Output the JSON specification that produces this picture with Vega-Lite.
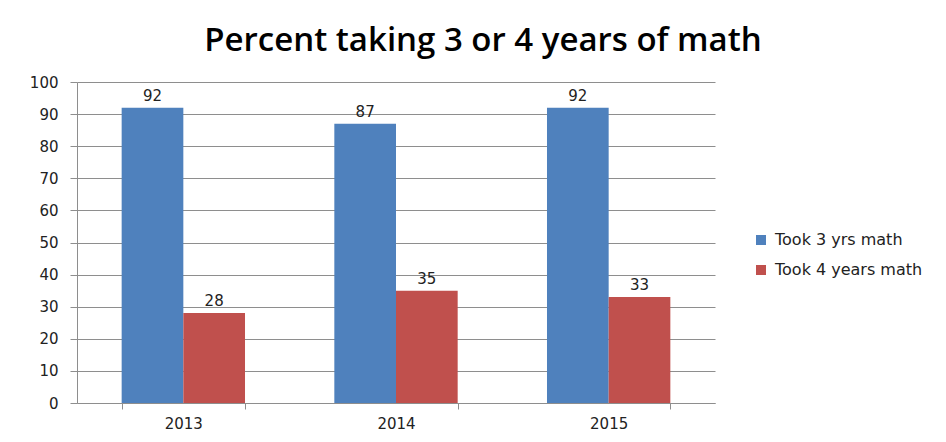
{
  "$schema": "https://vega.github.io/schema/vega-lite/v6.json",
  "width": 638,
  "height": 321,
  "autosize": {"type": "none"},
  "padding": {"left": 77, "top": 82, "right": 231, "bottom": 39},
  "background": "white",
  "title": {
    "text": "Percent taking 3 or 4 years of math",
    "font": "Open Sans",
    "fontSize": 33,
    "fontWeight": 600,
    "color": "#000000",
    "anchor": "middle",
    "frame": "group",
    "dx": 87,
    "offset": 17
  },
  "data": {
    "values": [
      {"year": "2013", "series": "Took 3 yrs math", "value": 92},
      {"year": "2013", "series": "Took 4 years math", "value": 28},
      {"year": "2014", "series": "Took 3 yrs math", "value": 87},
      {"year": "2014", "series": "Took 4 years math", "value": 35},
      {"year": "2015", "series": "Took 3 yrs math", "value": 92},
      {"year": "2015", "series": "Took 4 years math", "value": 33}
    ]
  },
  "encoding": {
    "x": {
      "field": "year",
      "type": "nominal",
      "scale": {"paddingInner": 0.42, "paddingOuter": 0.21},
      "axis": {
        "title": null,
        "labelAngle": 0,
        "tickBand": "extent",
        "tickSize": 6,
        "tickColor": "#8e8e8e",
        "domainColor": "#8e8e8e",
        "labelPadding": 7,
        "labelFont": "DejaVu Sans",
        "labelFontSize": 15,
        "labelColor": "#222222"
      }
    },
    "xOffset": {"field": "series", "type": "nominal"},
    "y": {
      "field": "value",
      "type": "quantitative",
      "scale": {"domain": [0, 100], "nice": false},
      "axis": {
        "title": null,
        "values": [0, 10, 20, 30, 40, 50, 60, 70, 80, 90, 100],
        "grid": true,
        "gridColor": "#8e8e8e",
        "domainColor": "#8e8e8e",
        "tickColor": "#8e8e8e",
        "tickSize": 7,
        "labelPadding": 12,
        "labelFont": "DejaVu Sans",
        "labelFontSize": 15,
        "labelColor": "#222222"
      }
    }
  },
  "layer": [
    {
      "mark": {"type": "bar"},
      "encoding": {
        "color": {
          "field": "series",
          "type": "nominal",
          "scale": {"domain": ["Took 3 yrs math", "Took 4 years math"], "range": ["#4f81bd", "#c0504d"]},
          "legend": {
            "title": null,
            "orient": "none",
            "legendX": 676,
            "legendY": 150,
            "symbolType": "square",
            "symbolSize": 100,
            "symbolStrokeWidth": 0,
            "labelFont": "DejaVu Sans",
            "labelFontSize": 16,
            "labelColor": "#222222",
            "rowPadding": 14,
            "labelOffset": 6
          }
        }
      }
    },
    {
      "mark": {"type": "text", "dy": -12, "font": "DejaVu Sans", "fontSize": 15, "color": "#222222"},
      "encoding": {
        "text": {"field": "value", "type": "quantitative"}
      }
    }
  ],
  "config": {
    "view": {"stroke": null}
  }
}
